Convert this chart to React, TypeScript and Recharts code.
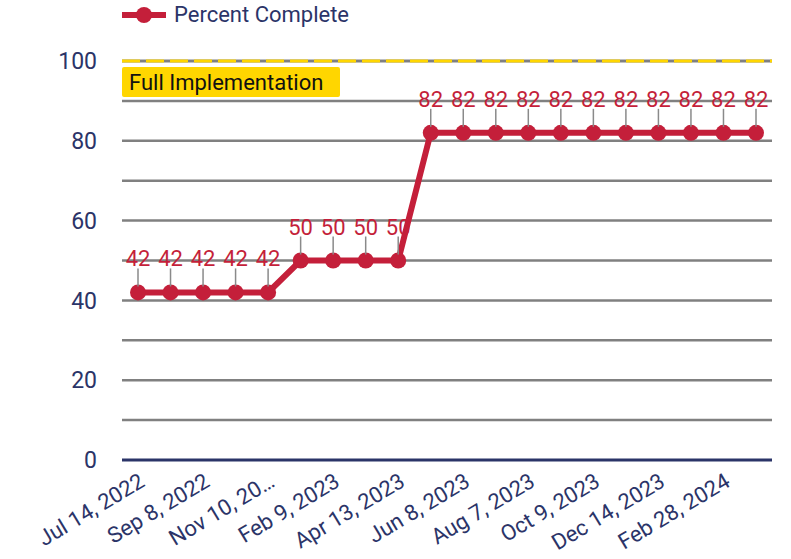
import { LineChart, Line, XAxis, YAxis, ReferenceLine, LabelList } from 'recharts';

const dates = [
  'Jul 14, 2022', 'Aug 11, 2022', 'Sep 8, 2022', 'Oct 13, 2022', 'Nov 10, 2022',
  'Jan 12, 2023', 'Feb 9, 2023', 'Mar 9, 2023', 'Apr 13, 2023', 'May 11, 2023',
  'Jun 8, 2023', 'Jul 13, 2023', 'Aug 7, 2023', 'Sep 11, 2023', 'Oct 9, 2023',
  'Nov 13, 2023', 'Dec 14, 2023', 'Jan 25, 2024', 'Feb 28, 2024', 'Apr 11, 2024',
];
const percentComplete = [42, 42, 42, 42, 42, 50, 50, 50, 50, 82, 82, 82, 82, 82, 82, 82, 82, 82, 82, 82];
const yTicks = [0, 20, 40, 60, 80, 100];
const gridValues = [10, 20, 30, 40, 50, 60, 70, 80, 90];

const RED = '#C41F3A';
const NAVY = '#2B3468';
const FONT = 'Roboto, sans-serif';

const data = dates.map((d, i) => ({ date: d, value: percentComplete[i] }));

function ValueLabel(props: any) {
  const { x, y, value } = props;
  return (
    <g>
      <line x1={x} y1={y - 6} x2={x} y2={y - 24} stroke="#8a8a8a" strokeWidth={1.5} />
      <text x={x} y={y - 26} textAnchor="middle" fill={RED} fontSize={22} fontFamily={FONT}>
        {value}
      </text>
    </g>
  );
}

function FullImplLabel(props: any) {
  const { viewBox } = props;
  const x = viewBox.x;
  const y = viewBox.y;
  return (
    <g>
      <rect x={x} y={y + 6} width={218} height={30} rx={2} fill="#FFD600" />
      <text x={x + 7} y={y + 29} fill="#111" fontSize={22} fontFamily={FONT}>
        Full Implementation
      </text>
    </g>
  );
}

export default function App() {
  return (
    <div style={{ position: 'relative', width: 791, height: 559, background: '#fff' }}>
      <style>{'body{margin:0}'}</style>
      <div
        style={{
          position: 'absolute', left: 122, top: 3, display: 'flex', alignItems: 'center',
          fontFamily: FONT, color: NAVY, fontSize: 22, lineHeight: '24px',
        }}
      >
        <svg width={44} height={18} style={{ marginRight: 8 }}>
          <line x1={0} y1={9} x2={44} y2={9} stroke={RED} strokeWidth={6} />
          <circle cx={22} cy={9} r={8} fill={RED} />
        </svg>
        Percent Complete
      </div>
      <LineChart width={791} height={559} data={data} margin={{ top: 61, right: 19, bottom: 9, left: 12 }}>
        <XAxis
          dataKey="date"
          interval={1}
          padding={{ left: 16, right: 16 }}
          axisLine={{ stroke: NAVY, strokeWidth: 3 }}
          tickLine={false}
          height={90}
          angle={-31}
          textAnchor="end"
          tick={{ fill: NAVY, fontSize: 22, fontFamily: FONT }}
          tickMargin={6}
          tickFormatter={(v: string) => (v === 'Nov 10, 2022' ? 'Nov 10, 20…' : v)}
        />
        <YAxis
          domain={[0, 100]}
          ticks={yTicks}
          width={110}
          axisLine={false}
          tickLine={false}
          tickSize={0}
          tickMargin={25}
          tick={{ fill: NAVY, fontSize: 23, fontFamily: FONT }}
        />
        {gridValues.map((v) => (
          <ReferenceLine key={v} y={v} stroke="#808080" strokeWidth={2.5} />
        ))}
        <ReferenceLine y={100} stroke="#808080" strokeWidth={3} />
        <ReferenceLine y={100} stroke="#FFD600" strokeWidth={3} strokeDasharray="18 6" label={<FullImplLabel />} />
        <Line
          dataKey="value"
          stroke={RED}
          strokeWidth={6}
          dot={{ r: 8, fill: RED, stroke: RED, strokeWidth: 0 }}
          activeDot={false}
          isAnimationActive={false}
        >
          <LabelList dataKey="value" content={<ValueLabel />} />
        </Line>
      </LineChart>
    </div>
  );
}
